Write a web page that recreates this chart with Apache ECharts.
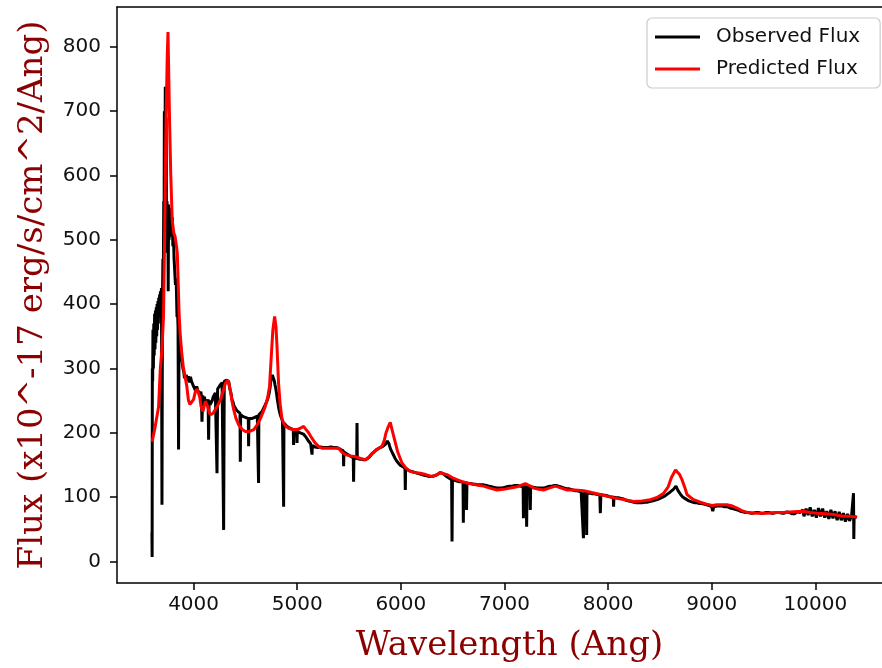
<!DOCTYPE html>
<html>
<head>
<meta charset="utf-8">
<script src="https://cdn.jsdelivr.net/npm/echarts@6/dist/echarts.min.js"></script>
<style>html,body{margin:0;padding:0;background:#fff;overflow:hidden;}#chart{width:882px;height:668px;}</style>
</head>
<body>
<div id="chart"></div>
<script>
// Observed flux [wavelength (Ang), flux]
const observed = [
[3598,45],[3600,7],[3602,300],[3605,280],[3608,360],[3612,300],[3616,370],[3620,320],[3624,385],[3628,330],[3632,390],[3636,340],[3640,395],[3644,350],[3648,400],[3652,360],[3656,405],[3660,370],[3664,410],[3668,380],[3672,415],[3676,390],[3680,420],[3684,395],[3690,425],[3695,88],[3700,410],[3704,470],[3708,440],[3712,560],[3716,540],[3718,700],[3722,560],[3727,738],[3731,620],[3735,690],[3740,480],[3744,560],[3748,500],[3752,540],[3755,420],[3759,555],[3764,500],[3768,550],[3772,510],[3776,545],[3780,520],[3785,540],[3790,505],[3795,535],[3800,490],[3806,505],[3812,470],[3818,470],[3825,430],[3832,440],[3840,380],[3845,390],[3850,365],[3855,174],[3860,355],[3866,345],[3875,335],[3882,320],[3890,310],[3897,300],[3905,295],[3912,285],[3920,282],[3930,290],[3940,280],[3950,288],[3960,278],[3970,287],[3980,280],[3990,283],[4000,272],[4010,270],[4020,265],[4030,272],[4040,266],[4050,265],[4060,260],[4070,264],[4075,258],[4081,217],[4088,258],[4096,252],[4105,256],[4115,246],[4125,250],[4133,245],[4140,252],[4145,189],[4150,250],[4160,244],[4170,247],[4180,250],[4190,256],[4200,258],[4210,262],[4220,262],[4226,137],[4232,268],[4245,268],[4255,274],[4265,272],[4275,278],[4285,280],[4290,49],[4296,280],[4308,283],[4320,282],[4330,284],[4340,279],[4350,268],[4360,262],[4370,252],[4380,248],[4390,242],[4400,240],[4415,235],[4430,233],[4448,230],[4451,155],[4454,228],[4465,227],[4480,225],[4500,224],[4515,223],[4528,222],[4531,179],[4534,222],[4548,221],[4560,222],[4575,223],[4590,224],[4605,226],[4615,226],[4624,228],[4627,122],[4630,228],[4645,230],[4660,233],[4675,238],[4690,243],[4700,246],[4710,250],[4720,255],[4730,262],[4738,270],[4745,280],[4752,286],[4760,290],[4766,288],[4772,291],[4780,280],[4785,275],[4792,270],[4800,262],[4808,252],[4815,245],[4822,238],[4830,232],[4840,226],[4850,222],[4858,218],[4866,216],[4869,85],[4872,215],[4885,212],[4900,210],[4915,208],[4930,207],[4945,206],[4962,205],[4965,181],[4968,204],[4980,204],[4995,203],[4998,184],[5001,202],[5015,201],[5030,200],[5045,199],[5060,198],[5075,195],[5090,192],[5105,188],[5120,186],[5130,183],[5140,180],[5143,166],[5146,180],[5158,179],[5170,178],[5185,177],[5200,177],[5225,178],[5250,177],[5275,177],[5300,177],[5325,178],[5350,177],[5375,177],[5400,176],[5420,174],[5445,172],[5448,148],[5451,170],[5465,168],[5480,167],[5500,165],[5520,163],[5530,162],[5541,161],[5544,124],[5547,161],[5560,160],[5574,160],[5577,215],[5580,160],[5600,159],[5620,159],[5640,158],[5660,158],[5680,160],[5700,163],[5720,167],[5740,170],[5760,173],[5780,175],[5800,177],[5820,178],[5835,180],[5850,182],[5860,185],[5870,187],[5878,186],[5885,183],[5892,179],[5900,175],[5915,170],[5930,165],[5945,160],[5960,156],[5975,153],[5990,150],[6005,148],[6020,147],[6030,146],[6040,145],[6043,111],[6046,145],[6060,143],[6080,141],[6100,140],[6120,139],[6140,138],[6160,137],[6180,136],[6200,135],[6225,134],[6250,133],[6275,132],[6300,132],[6320,133],[6340,134],[6360,136],[6380,138],[6400,137],[6420,135],[6440,132],[6460,130],[6475,128],[6490,127],[6494,31],[6498,127],[6510,126],[6520,126],[6540,125],[6560,124],[6580,124],[6600,123],[6603,60],[6607,123],[6618,122],[6630,122],[6634,80],[6638,122],[6660,121],[6680,121],[6700,120],[6720,120],[6740,119],[6760,119],[6780,119],[6800,119],[6825,118],[6850,117],[6875,116],[6900,115],[6925,114],[6950,114],[6975,114],[7000,115],[7025,116],[7050,117],[7075,117],[7100,118],[7125,118],[7150,117],[7165,117],[7180,116],[7183,67],[7186,116],[7198,117],[7210,116],[7214,54],[7218,116],[7232,116],[7245,116],[7249,80],[7253,116],[7270,115],[7290,115],[7315,114],[7340,114],[7360,114],[7380,114],[7400,115],[7420,116],[7440,117],[7460,117],[7480,118],[7500,118],[7520,117],[7540,116],[7560,115],[7580,114],[7600,113],[7620,113],[7640,112],[7660,111],[7680,110],[7700,110],[7720,109],[7740,108],[7758,108],[7762,36],[7766,106],[7778,106],[7790,106],[7793,41],[7796,106],[7812,106],[7830,106],[7850,105],[7870,105],[7895,104],[7920,104],[7925,75],[7930,104],[7950,103],[7970,103],[7990,102],[8010,101],[8030,100],[8050,100],[8053,85],[8056,100],[8078,99],[8100,99],[8125,98],[8150,97],[8175,95],[8200,94],[8225,93],[8250,92],[8275,91],[8300,91],[8325,91],[8350,92],[8375,92],[8400,93],[8425,94],[8450,95],[8475,96],[8500,98],[8525,100],[8550,102],[8575,105],[8600,108],[8615,110],[8630,112],[8645,115],[8655,117],[8665,114],[8675,110],[8688,107],[8700,104],[8720,100],[8740,98],[8760,96],[8780,94],[8800,93],[8820,92],[8840,91],[8860,91],[8880,90],[8900,90],[8925,89],[8950,88],[8975,87],[9000,85],[9010,78],[9020,85],[9035,86],[9050,86],[9075,86],[9100,86],[9125,85],[9150,85],[9175,83],[9200,82],[9225,81],[9250,80],[9275,78],[9300,77],[9325,76],[9350,76],[9375,75],[9400,75],[9425,76],[9450,76],[9475,75],[9500,75],[9525,76],[9550,76],[9575,75],[9600,75],[9625,76],[9650,76],[9675,75],[9700,75],[9725,77],[9750,76],[9775,74],[9800,74],[9825,77],[9850,76],[9865,73],[9880,80],[9890,70],[9910,82],[9930,72],[9950,84],[9970,70],[9990,80],[10010,68],[10030,83],[10050,70],[10070,82],[10090,68],[10110,78],[10130,66],[10150,80],[10170,67],[10190,78],[10210,64],[10230,77],[10250,64],[10270,75],[10290,62],[10310,74],[10330,63],[10350,72],[10366,70],[10368,106],[10371,35],[10374,70],[10385,72],[10400,68]
];
// Predicted flux [wavelength (Ang), flux]
const predicted = [
[3600,186],[3630,210],[3662,240],[3679,300],[3695,330],[3710,382],[3722,520],[3732,660],[3745,780],[3753,823],[3760,760],[3768,686],[3780,600],[3794,530],[3810,510],[3822,505],[3835,490],[3843,479],[3852,430],[3860,386],[3870,355],[3885,325],[3900,303],[3920,285],[3935,272],[3950,251],[3965,244],[3983,241],[4000,252],[4017,264],[4035,268],[4049,267],[4060,255],[4072,241],[4091,233],[4113,249],[4125,246],[4136,241],[4150,232],[4162,228],[4185,230],[4210,236],[4235,243],[4258,251],[4285,265],[4307,277],[4329,282],[4340,280],[4355,267],[4370,250],[4387,236],[4410,222],[4436,212],[4470,205],[4500,202],[4540,202],[4581,205],[4612,212],[4645,222],[4692,241],[4715,255],[4733,272],[4750,320],[4765,360],[4782,381],[4795,365],[4805,334],[4820,277],[4835,245],[4853,222],[4869,215],[4890,210],[4917,207],[4960,205],[4998,205],[5030,207],[5062,210],[5080,206],[5110,200],[5140,192],[5174,184],[5210,178],[5239,176],[5300,176],[5350,176],[5399,176],[5430,170],[5464,166],[5510,164],[5560,163],[5610,160],[5656,158],[5690,162],[5722,168],[5760,173],[5818,179],[5840,188],[5857,200],[5880,210],[5898,216],[5915,205],[5940,189],[5970,170],[6011,153],[6050,145],[6091,140],[6140,138],[6188,137],[6240,135],[6301,132],[6340,134],[6381,138],[6445,135],[6500,130],[6542,127],[6590,124],[6638,122],[6700,120],[6760,118],[6799,117],[6860,114],[6928,111],[6990,112],[7056,114],[7120,116],[7201,121],[7240,118],[7281,114],[7330,112],[7378,111],[7430,114],[7491,117],[7550,114],[7604,111],[7680,111],[7764,110],[7840,107],[7925,104],[8000,101],[8086,98],[8160,96],[8246,93],[8330,94],[8407,96],[8480,100],[8536,106],[8580,116],[8610,130],[8650,142],[8665,145],[8690,135],[8713,127],[8740,115],[8761,104],[8800,99],[8825,96],[8890,92],[8950,89],[9003,87],[9051,88],[9100,88],[9148,88],[9200,86],[9244,83],[9290,79],[9341,76],[9440,75],[9534,75],[9614,76],[9694,76],[9790,77],[9887,78],[9950,76],[10016,75],[10100,74],[10176,73],[10273,70],[10338,70],[10400,69]
];
const xTicks = [4000,5000,6000,7000,8000,9000,10000];
const yTicks = [0,100,200,300,400,500,600,700,800];
const seriesNames = ['Observed Flux','Predicted Flux'];

const chart = echarts.init(document.getElementById('chart'), null, {renderer:'canvas'});
const tickFont = {fontFamily:'DejaVu Sans', fontSize:20, color:'#111', formatter:function(v){return String(v);}};
chart.setOption({
  animation:false,
  backgroundColor:'#ffffff',
  grid:{left:117, top:7, width:765, height:576, show:false, outerBoundsMode:'none', containLabel:false},
  legend:{
    data:seriesNames.map(function(n){return {name:n, icon:'rect'};}), orient:'vertical', left:647, top:18,
    padding:[9,20,9,8], itemGap:12, itemWidth:45, itemHeight:3,
    backgroundColor:'rgba(255,255,255,0.8)', borderColor:'#cccccc', borderWidth:1.2, borderRadius:5,
    textStyle:{fontFamily:'DejaVu Sans', fontSize:20, color:'#111', padding:[0,0,0,11]}
  },
  xAxis:[{
    type:'value', min:3261, max:10643,
    name:'Wavelength (Ang)', nameLocation:'middle', nameGap:46,
    nameTextStyle:{fontFamily:'DejaVu Serif', fontSize:34, color:'#8b0000', padding:[0,0,0,20]},
    axisLine:{show:true, onZero:false, lineStyle:{color:'#000', width:1.5}},
    axisTick:{show:true, inside:false, length:7, lineStyle:{color:'#000', width:1.5}, customValues:xTicks},
    axisLabel:Object.assign({margin:12, customValues:xTicks}, tickFont),
    splitLine:{show:false}
  },{
    type:'value', position:'top', min:3261, max:10643,
    axisLine:{show:true, onZero:false, lineStyle:{color:'#000', width:1.5}},
    axisTick:{show:false}, axisLabel:{show:false}, splitLine:{show:false}
  }],
  yAxis:{
    type:'value', min:-33.6, max:862,
    name:'Flux (x10^-17 erg/s/cm^2/Ang)', nameLocation:'middle', nameGap:67, nameRotate:90,
    nameTextStyle:{fontFamily:'DejaVu Serif', fontSize:34, color:'#8b0000'},
    axisLine:{show:true, onZero:false, lineStyle:{color:'#000', width:1.5}},
    axisTick:{show:true, inside:false, length:7, lineStyle:{color:'#000', width:1.5}, customValues:yTicks},
    axisLabel:Object.assign({margin:16, customValues:yTicks}, tickFont),
    splitLine:{show:false}
  },
  series:[
    {name:seriesNames[0], type:'line', data:observed, symbol:'none', showSymbol:false, color:'#000000', lineStyle:{color:'#000000', width:3}, z:2},
    {name:seriesNames[1], type:'line', data:predicted, symbol:'none', showSymbol:false, color:'#ff0000', lineStyle:{color:'#ff0000', width:3}, z:3}
  ]
});
</script>
</body>
</html>
